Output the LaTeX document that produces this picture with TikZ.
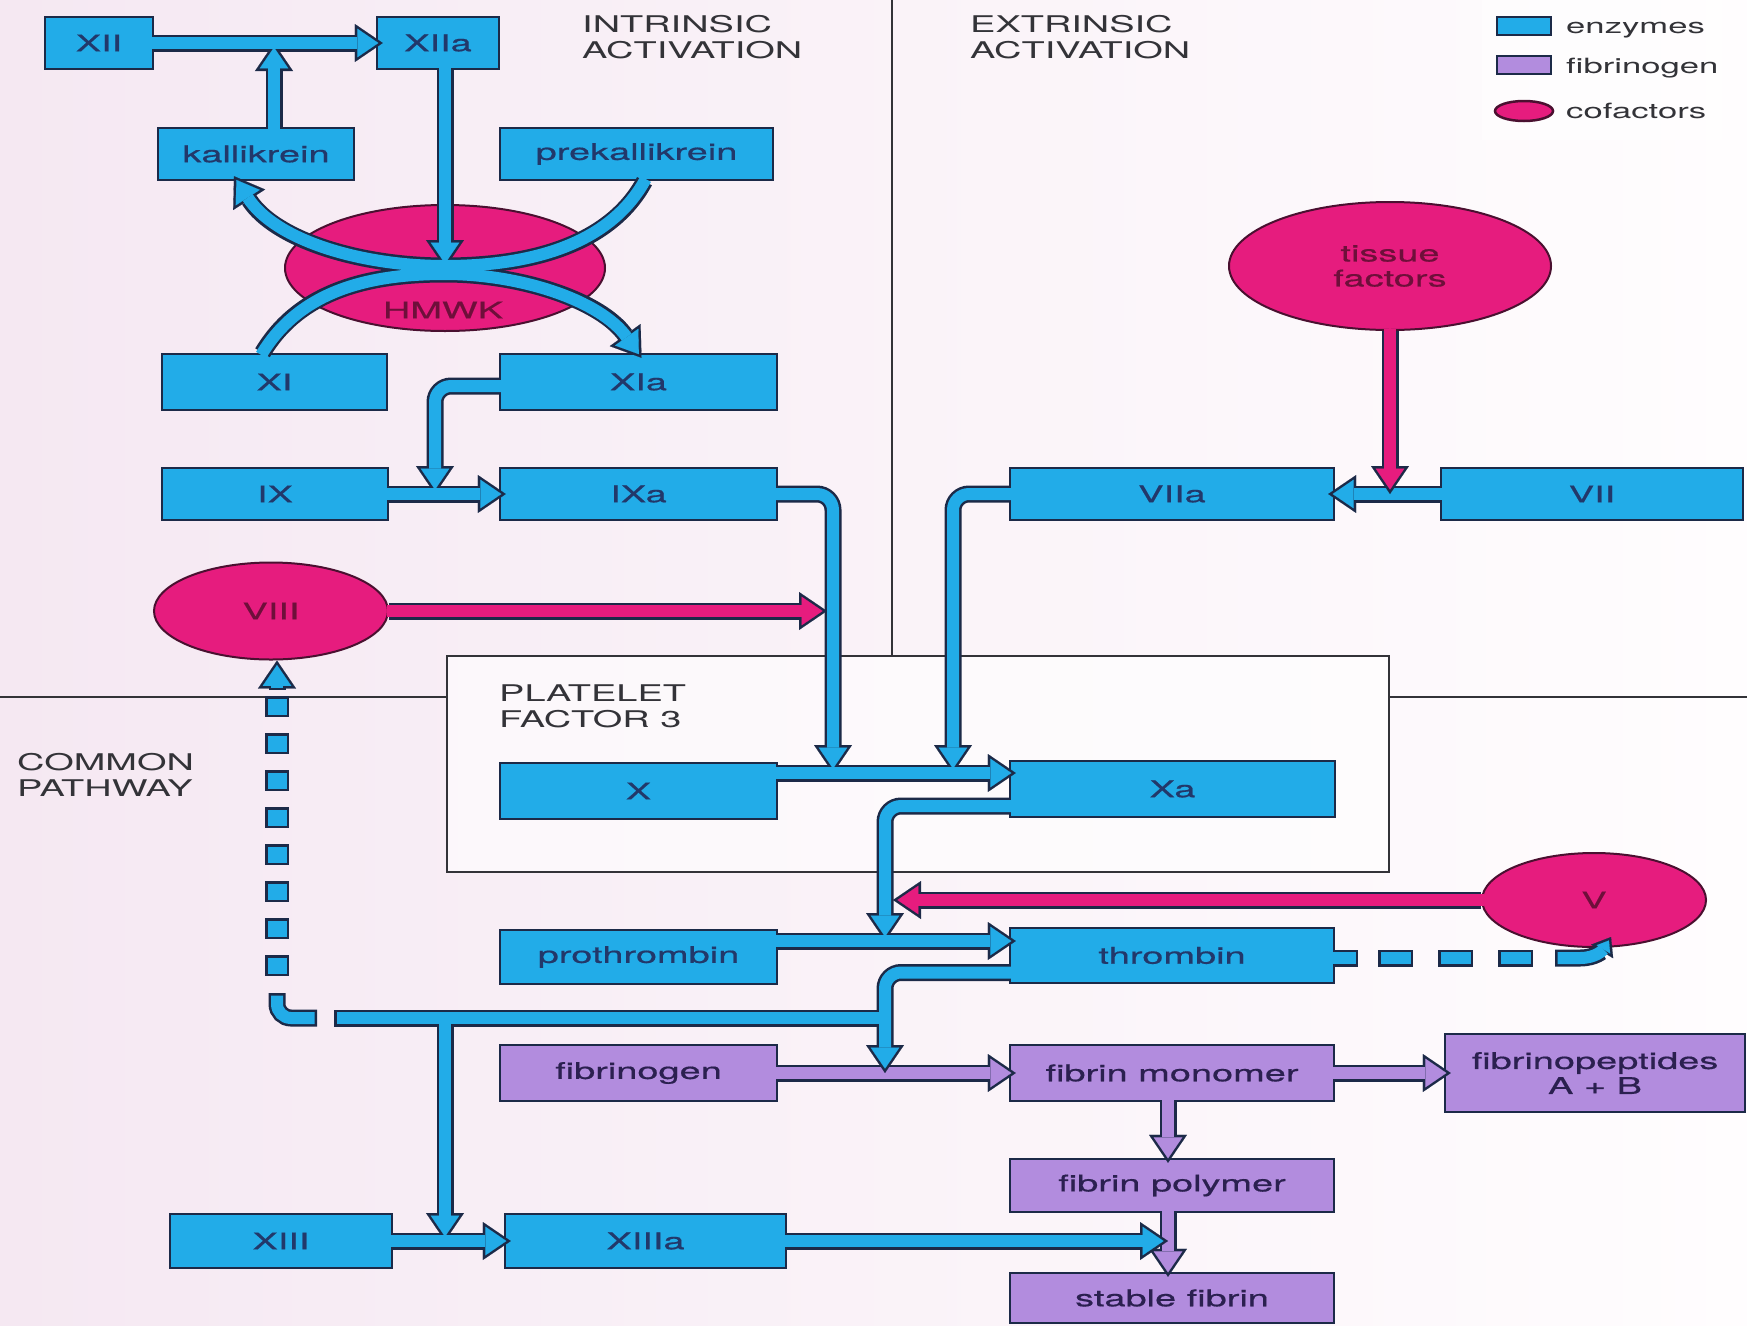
\documentclass[tikz,border=0pt]{standalone}
\usepackage{fontspec}
\usetikzlibrary{arrows.meta,calc,shapes.geometric}
\newfontfamily\wf{TeX Gyre Heros}[FakeStretch=1.65]
\newfontfamily\wfb{TeX Gyre Heros}[FakeStretch=1.65,FakeBold=0.6]
\definecolor{enz}{HTML}{22ACE8}
\definecolor{edge}{HTML}{1C2A48}
\definecolor{pinkc}{HTML}{E61C7E}
\definecolor{purp}{HTML}{B28CDE}
\definecolor{labc}{HTML}{22386A}
\definecolor{plabc}{HTML}{2B2050}
\definecolor{elab}{HTML}{6E0F3A}
\definecolor{seclab}{HTML}{333338}
\definecolor{bgl}{HTML}{F5E8F2}
\definecolor{bgr}{HTML}{FFFDFE}
\definecolor{eedge}{HTML}{4A1030}
\colorlet{bandfill}{enz}
\newcommand\lfont{\wfb\fontsize{23}{25}\selectfont}
\newcommand\sfont{\wf\fontsize{21}{24}\selectfont}
\tikzset{
  ebox/.style={draw=edge, line width=2.4pt, fill=enz, text=labc, font=\lfont, inner sep=0pt, align=center},
  pbox/.style={draw=edge, line width=2.4pt, fill=purp, text=plabc, font=\lfont, inner sep=0pt, align=center},
  coell/.style={ellipse, draw=eedge, line width=2pt, fill=pinkc, text=elab, font=\lfont, inner sep=0pt, align=center},
  seclabel/.style={anchor=north west, inner sep=0pt, align=left, text=seclab, font=\wf\fontsize{23}{26}\selectfont},
  legtext/.style={anchor=base west, inner sep=0pt, text=seclab, font=\sfont},
  sepline/.style={draw=seclab, line width=1.6pt},
  dsq/.style={draw=edge, fill=enz, line width=2.5pt},
  passO/.style={
    band/.style={line width=17pt, draw=edge},
    free/.style={}, fe/.style={},
    hd/.style={-{Triangle[length=28pt,width=38pt,line width=0.1pt]}},
    hs/.style={-{Triangle[length=17pt,width=26pt,line width=0.1pt]}}},
  passI/.style={
    band/.style={line width=12pt, draw=bandfill, shorten <=-2.5pt},
    free/.style={shorten <=2.5pt},
    fe/.style={shorten >=2.5pt},
    hd/.style={shorten >=4.45pt, -{Triangle[length=21pt,width=28.6pt,line width=0.1pt]}},
    hs/.style={shorten >=4.1pt, -{Triangle[length=10.4pt,width=15.9pt,line width=0.1pt]}}},
}
\newcommand\purpnet{
  \draw[band,hd] (fibg.east) -- ($(fmon.west)+(7,0)$);
  \draw[band,hd] (fmon.east) -- ($(fpep.west)+(7,0)$);
  \draw[band,hd] ($(fmon.south)+(-4,0)$) -- ($(fpol.north)+(-4,5)$);
  \draw[band,hd] ($(fpol.south)+(-4,0)$) -- ($(stab.north)+(-4,5)$);
}
\newcommand\bluenet{
  \draw[band,hd] (XII.east) -- ($(XIIa.west)+(7,0)$);
  \draw[band,hd] ($(kall.north)+(18,0)$) -- (k1);
  \draw[band,hd] ($(prek.south)+(8,0)$) .. controls (610,245) and (530,266) .. (445,266) .. controls (360,266) and (275,240) .. ($(kall.south)+(-22,-5)$);
  \draw[band,hd] ($(XI.north)+(-12,0)$) .. controls (300,290) and (370,274) .. (445,274) .. controls (520,274) and (600,300) .. ($(XIa.north)+(3,5)$);
  \draw[band,hd] ($(XIIa.south)+(7,0)$) -- (HMWK.center);
  \draw[band,hd,rounded corners=16pt] ($(XIa.west)+(0,4)$) -| (jIX);
  \draw[band,hd] (IX.east) -- ($(IXa.west)+(7,0)$);
  \draw[band,hd,rounded corners=16pt] (IXa.east) -| (jX1);
  \draw[band,hd,rounded corners=16pt] (VIIa.west) -| (jX2);
  \draw[band,hd] (VII.west) -- ($(VIIa.east)+(-7,0)$);
  \draw[band,hd] ($(X.east)+(0,-18)$) -- ($(Xa.west)+(7,-16)$);
  \draw[band,hd,rounded corners=16pt] ($(Xa.west)+(0,17)$) -| (jP);
  \draw[band,hd] ($(proth.east)+(0,-16)$) -- ($(thromb.west)+(7,-14.5)$);
  \draw[band,hd,rounded corners=16pt] ($(thromb.west)+(0,17)$) -| (jF);
  \draw[band,fe] (jB) -- (jD);
  \draw[band,hd] (jC) -- (jXIII);
  \draw[band,hd] (XIII.east) -- ($(XIIIa.west)+(7,0)$);
  \draw[band,hd] (XIIIa.east) -- (jS);
  \draw[band,free,fe,rounded corners=14pt] (dc) |- (dce);
  \draw[band,free,hd] (d0) -- ($(VIII.south)+(6,0)$);
  \draw[band,fe] ($(thromb.east)+(0,2.5)$) -- (ds);
  \draw[band,free,hs] (dh) -- (1580,958) .. controls (1596,958) and (1603,950) .. (dht);
}
\newcommand\pinknet{
  \draw[band,hd] (VIII.east) -- (j8);
  \draw[band,hd] (tf.south) -- (jT);
  \draw[band,hd] (Vc.west) -- (j5);
}
\begin{document}
\begin{tikzpicture}[x=1pt,y=-1pt]
\useasboundingbox (0,0) rectangle (1747,1325);
\shade[left color=bgl, right color=bgr] (0,0) rectangle (1747,1325);
\fill[white, opacity=0.55] (1482,0) rectangle (1722,140);
% separators and platelet region
\draw[sepline] (892,0) -- (892,656);
\draw[sepline] (0,697) -- (447,697);
\draw[sepline] (1389,697) -- (1747,697);
\node[sepline, fill=white, fill opacity=0.6, minimum width=942pt, minimum height=216pt, inner sep=0pt] (pf3) at (918,764) {};
% cofactors
\node[coell, minimum width=320pt, minimum height=126pt] (HMWK) at (445,268) {};
\node[coell, minimum width=234pt, minimum height=97pt] (VIII) at (271,611) {VIII};
\node[coell, minimum width=322pt, minimum height=128pt] (tf) at (1390,266) {tissue\\factors};
\node[coell, minimum width=224pt, minimum height=94pt] (Vc) at (1594,900) {V};
% boxes
\node[ebox, minimum width=108pt, minimum height=52pt] (XII) at (99,43) {XII};
\node[ebox, minimum width=122pt, minimum height=52pt] (XIIa) at (438,43) {XIIa};
\node[ebox, minimum width=196pt, minimum height=52pt] (kall) at (256,154) {kallikrein};
\node[ebox, minimum width=273pt, minimum height=52pt] (prek) at (636.5,154) {prekallikrein};
\node[ebox, minimum width=225pt, minimum height=56pt] (XI) at (274.5,382) {XI};
\node[ebox, minimum width=277pt, minimum height=56pt] (XIa) at (638.5,382) {XIa};
\node[ebox, minimum width=226pt, minimum height=52pt] (IX) at (275,494) {IX};
\node[ebox, minimum width=277pt, minimum height=52pt] (IXa) at (638.5,494) {IXa};
\node[ebox, minimum width=324pt, minimum height=52pt] (VIIa) at (1172,494) {VIIa};
\node[ebox, minimum width=302pt, minimum height=52pt] (VII) at (1592,494) {VII};
\node[ebox, minimum width=277pt, minimum height=56pt] (X) at (638.5,791) {X};
\node[ebox, minimum width=325pt, minimum height=56pt] (Xa) at (1172.5,789) {Xa};
\node[ebox, minimum width=277pt, minimum height=54pt] (proth) at (638.5,957) {prothrombin};
\node[ebox, minimum width=324pt, minimum height=55pt] (thromb) at (1172,955.5) {thrombin};
\node[pbox, minimum width=277pt, minimum height=56pt] (fibg) at (638.5,1073) {fibrinogen};
\node[pbox, minimum width=324pt, minimum height=56pt] (fmon) at (1172,1073) {fibrin monomer};
\node[pbox, minimum width=300pt, minimum height=78pt] (fpep) at (1595,1073) {fibrinopeptides\\A + B};
\node[pbox, minimum width=324pt, minimum height=53pt] (fpol) at (1172,1185.5) {fibrin polymer};
\node[ebox, minimum width=222pt, minimum height=54pt] (XIII) at (281,1241) {XIII};
\node[ebox, minimum width=281pt, minimum height=54pt] (XIIIa) at (645.5,1241) {XIIIa};
\node[pbox, minimum width=324pt, minimum height=50pt] (stab) at (1172,1298) {stable fibrin};
% junction coordinates
\coordinate (k1) at (274,43);
\coordinate (jIX) at (435,494);
\coordinate (jX1) at (833,773);
\coordinate (jX2) at (953,773);
\coordinate (jP) at (885,941);
\coordinate (jF) at (885,1073);
\coordinate (jB) at (885,1018);
\coordinate (jD) at (334,1018);
\coordinate (jC) at (445,1018);
\coordinate (jXIII) at (445,1241);
\coordinate (jS) at (1168,1241);
\coordinate (j8) at (827,611);
\coordinate (jT) at (1390,494);
\coordinate (j5) at (893,900);
\coordinate (d0) at (277,690);
\coordinate (dc) at (277,993);
\coordinate (dce) at (317,1018);
\coordinate (ds) at (1358,958);
\coordinate (dh) at (1555,958);
\coordinate (dht) at (1611,937);
% fibrin connectors
\begin{scope}[passO] \purpnet \end{scope}
\colorlet{bandfill}{purp}
\begin{scope}[passI] \purpnet \end{scope}
% enzyme connectors
\begin{scope}[passO] \bluenet \end{scope}
\colorlet{bandfill}{enz}
\begin{scope}[passI] \bluenet \end{scope}
% dashed feedback pieces
\foreach \yy in {696,733,...,955} \draw[dsq] (266.25,\yy+1.25) rectangle (287.75,\yy+19.75);
\foreach \xx in {1378,1438,1498} \draw[dsq] (\xx+1.25,950.75) rectangle (\xx+33.75,965.25);
% cofactor connectors
\begin{scope}[passO] \pinknet \end{scope}
\colorlet{bandfill}{pinkc}
\begin{scope}[passI] \pinknet \end{scope}
% labels
\node[text=elab, font=\lfont, inner sep=0pt] (hmwklab) at (443,310) {HMWK};
\node[seclabel] (intr) at (582,15) {INTRINSIC\\ACTIVATION};
\node[seclabel] (extr) at (970,15) {EXTRINSIC\\ACTIVATION};
\node[seclabel] (plt) at (499,685) {PLATELET\\FACTOR 3};
\node[seclabel] (comm) at (17,753) {COMMON\\PATHWAY};
% legend
\node[draw=edge, line width=2.5pt, fill=enz, minimum width=54pt, minimum height=18pt, inner sep=0pt] (lgE) at (1524,26) {};
\node[legtext] (lgEt) at (1566,33) {enzymes};
\node[draw=edge, line width=2.5pt, fill=purp, minimum width=54pt, minimum height=18pt, inner sep=0pt] (lgF) at (1524,65) {};
\node[legtext] (lgFt) at (1566,73) {fibrinogen};
\node[ellipse, draw=eedge, line width=2.5pt, fill=pinkc, minimum width=58pt, minimum height=20pt, inner sep=0pt] (lgC) at (1524,111) {};
\node[legtext] (lgCt) at (1566,118) {cofactors};
\end{tikzpicture}
\end{document}
